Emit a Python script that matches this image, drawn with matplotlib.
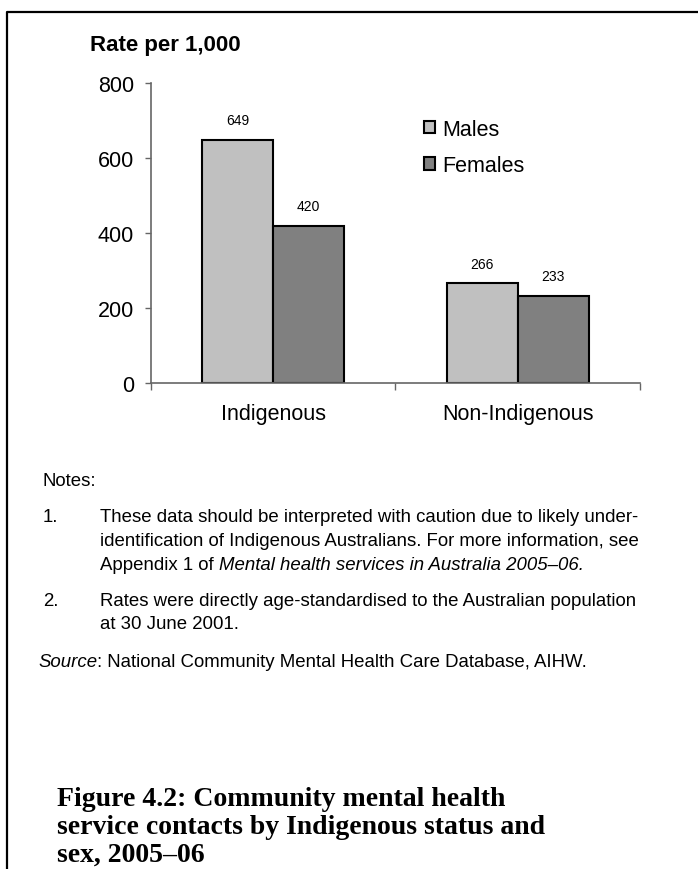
import numpy as np
import matplotlib
matplotlib.use("Agg")
from matplotlib import pyplot as plt
from matplotlib.lines import Line2D
from matplotlib.patches import Patch

# data
categories = ["Indigenous", "Non-Indigenous"]
series = ["Males", "Females"]
males = [649, 266]
females = [420, 233]
colours = ["#c0c0c0", "#808080"]
y_ticks = [0, 200, 400, 600, 800]

W, H = 698, 870
fig = plt.figure(figsize=(W / 100, H / 100), dpi=100)
plt.rcParams["font.family"] = ["Liberation Sans", "DejaVu Sans"]


def fx(px):
    return px / W


def fy(py):
    return 1 - py / H


# outer frame (left and top only)
fig.add_artist(Line2D([fx(7), fx(7), fx(698)], [fy(870), fy(13), fy(13)],
                      color="black", lw=1.6, transform=fig.transFigure))

ax = fig.add_axes([fx(150.7), fy(384.3), fx(640 - 150.7), (384.3 - 84) / H])

x = np.arange(len(categories))
w = 0.29
b1 = ax.bar(x - w / 2, males, w, color=colours[0], edgecolor="black", lw=1.5, label=series[0])
b2 = ax.bar(x + w / 2, females, w, color=colours[1], edgecolor="black", lw=1.5, label=series[1])

for bars, vals in [(b1, males), (b2, females)]:
    for r, v in zip(bars, vals):
        ax.annotate(str(v), (r.get_x() + r.get_width() / 2, r.get_height()),
                    xytext=(0, 14), textcoords="offset points",
                    ha="center", va="center", fontsize=10)

ax.set_xlim(-0.5, 1.5)
ax.set_ylim(0, 800)
ax.set_yticks(y_ticks)
ax.tick_params(axis="y", labelsize=15.5, length=4, width=1, color="#666666", pad=8)
ax.set_xticks([-0.5, 0.5, 1.5])
ax.set_xticklabels([])
ax.tick_params(axis="x", which="major", length=5, width=1, color="#666666")
ax.set_xticks(x, minor=True)
ax.set_xticklabels(categories, minor=True)
ax.tick_params(axis="x", which="minor", length=0, labelsize=15.5, pad=14)
for s in ["top", "right"]:
    ax.spines[s].set_visible(False)
for s in ["left", "bottom"]:
    ax.spines[s].set_color("#666666")
    ax.spines[s].set_linewidth(1.2)

handles = [Patch(facecolor=c, edgecolor="black", lw=1.5, label=s) for s, c in zip(series, colours)]
fig.legend(handles=handles, loc="upper left", bbox_to_anchor=(fx(413), fy(109)),
           frameon=False, fontsize=15.5, handlelength=0.5, handleheight=0.5,
           handletextpad=0.35, labelspacing=0.72, borderpad=0)

fig.text(fx(90), fy(45), "Rate per 1,000", fontsize=16, fontweight="bold", va="center")

# notes
fs = 13.4
fig.text(fx(43), fy(482), "Notes:", fontsize=fs, va="center")
fig.text(fx(43), fy(517), "1.", fontsize=fs, va="center")
fig.text(fx(100), fy(517), "These data should be interpreted with caution due to likely under-",
         fontsize=fs, va="center")
fig.text(fx(100), fy(541), "identification of Indigenous Australians. For more information, see",
         fontsize=fs, va="center")
t = fig.text(fx(100), fy(565), "Appendix 1 of ", fontsize=fs, va="center")
fig.canvas.draw()
bb = t.get_window_extent()
fig.text(bb.x1 / W, fy(565), "Mental health services in Australia 2005\u201306.",
         fontsize=fs, va="center", style="italic")
fig.text(fx(43), fy(601), "2.", fontsize=fs, va="center")
fig.text(fx(100), fy(601), "Rates were directly age-standardised to the Australian population",
         fontsize=fs, va="center")
fig.text(fx(100), fy(625), "at 30 June 2001.", fontsize=fs, va="center")
s = fig.text(fx(38), fy(663), "Source", fontsize=fs, va="center", style="italic")
fig.canvas.draw()
bb = s.get_window_extent()
fig.text(bb.x1 / W, fy(663), ": National Community Mental Health Care Database, AIHW.",
         fontsize=fs, va="center")

title_lines = ["Figure 4.2: Community mental health",
               "service contacts by Indigenous status and",
               "sex, 2005\u201306"]
for line, yp in zip(title_lines, [800, 828, 855]):
    fig.text(fx(57), fy(yp), line, fontsize=20, fontweight="bold",
             family="Liberation Serif", va="center")

fig.savefig("out.png", dpi=100)
